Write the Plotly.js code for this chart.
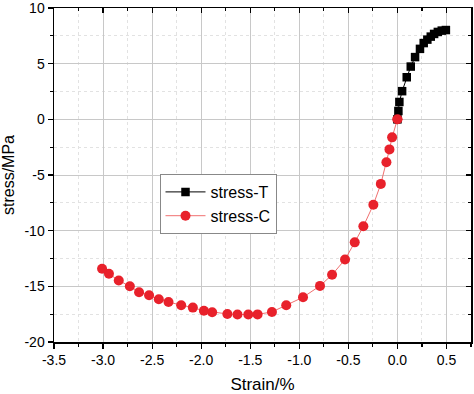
<!DOCTYPE html>
<html>
<head>
<meta charset="utf-8">
<script src="https://cdn.plot.ly/plotly-3.0.1.min.js"></script>
<style>html,body{margin:0;padding:0;background:#fff}#chart{width:474px;height:394px}</style>
</head>
<body>
<div id="chart"></div>
<script>
var tensionStrain = [0, 0.01, 0.02, 0.048, 0.095, 0.136, 0.18, 0.23, 0.268, 0.305, 0.34, 0.374, 0.412, 0.452, 0.494];
var tensionStress = [0, 0.75, 1.56, 2.53, 3.78, 4.74, 5.59, 6.33, 6.85, 7.16, 7.43, 7.67, 7.85, 7.97, 8.02];

var compStrain = [0, -0.054, -0.081, -0.112, -0.169, -0.245, -0.347, -0.435, -0.534, -0.666, -0.789, -0.962, -1.133, -1.279, -1.425, -1.52, -1.63, -1.733, -1.888, -1.972, -2.085, -2.204, -2.333, -2.432, -2.531, -2.633, -2.727, -2.84, -2.94, -3.01];
var compStress = [0, -1.62, -2.7, -3.85, -5.8, -7.67, -9.61, -11.05, -12.59, -13.96, -14.96, -15.98, -16.7, -17.3, -17.52, -17.53, -17.53, -17.48, -17.33, -17.2, -16.91, -16.7, -16.4, -16.16, -15.8, -15.53, -14.99, -14.48, -13.87, -13.42];

var seriesNames = ["stress-T", "stress-C"];
var xTitle = "Strain/%";
var yTitle = "stress/MPa";

var xTickVals = [-3.5, -3.0, -2.5, -2.0, -1.5, -1.0, -0.5, 0.0, 0.5];
var xTickText = ["-3.5", "-3.0", "-2.5", "-2.0", "-1.5", "-1.0", "-0.5", "0.0", "0.5"];
var yTickVals = [-20, -15, -10, -5, 0, 5, 10];
var yTickText = ["-20", "-15", "-10", "-5", "0", "5", "10"];

var font = "Liberation Sans, Arial, sans-serif";

var traces = [
  {x: compStrain, y: compStress, name: seriesNames[1], mode: "lines+markers",
   line: {color: "#f07070", width: 1},
   marker: {symbol: "circle", size: 10, color: "#e8212b", line: {width: 0}}},
  {x: tensionStrain, y: tensionStress, name: seriesNames[0], mode: "lines+markers",
   line: {color: "#000000", width: 1},
   marker: {symbol: "square", size: 8.5, color: "#000000", line: {width: 0}}},
  {x: [0], y: [0], xaxis: "x2", yaxis: "y2", mode: "markers", showlegend: false,
   marker: {size: 10, color: "#e8212b"}, hoverinfo: "skip"}
];

var xr = [-3.5, 0.75], yr = [-20, 10];

var layout = {
  width: 474, height: 394,
  margin: {l: 54, r: 3, t: 8, b: 52},
  paper_bgcolor: "#fff", plot_bgcolor: "#fff",
  font: {family: font, size: 14, color: "#000"},
  showlegend: true,
  legend: {x: 0.253, y: 0.503, xanchor: "left", yanchor: "top",
           bordercolor: "#888", borderwidth: 1, bgcolor: "#fff",
           font: {family: font, size: 16, color: "#000"},
           traceorder: "reversed", tracegroupgap: 0, itemwidth: 40},
  xaxis: {range: xr, tickmode: "array", tickvals: xTickVals, ticktext: xTickText,
          ticklabeloverflow: "allow",
          showline: true, linecolor: "#000", linewidth: 1.5,
          ticks: "outside", ticklen: 5, tickwidth: 1.2, tickcolor: "#000",
          showgrid: true, gridcolor: "#c8c8c8", gridwidth: 1, zeroline: false,
          minor: {dtick: 0.25, tick0: 0, ticks: "outside", ticklen: 3, tickcolor: "#000",
                  showgrid: true, gridcolor: "#e2e2e2", griddash: "dot", gridwidth: 1},
          title: {text: xTitle, font: {family: font, size: 17}, standoff: 12},
          tickfont: {family: font, size: 14}},
  yaxis: {range: yr, tickmode: "array", tickvals: yTickVals, ticktext: yTickText,
          ticklabeloverflow: "allow",
          showline: true, linecolor: "#000", linewidth: 1.5,
          ticks: "outside", ticklen: 5, tickwidth: 1.2, tickcolor: "#000",
          showgrid: true, gridcolor: "#c8c8c8", gridwidth: 1, zeroline: false,
          minor: {dtick: 2.5, tick0: 0, ticks: "outside", ticklen: 3, tickcolor: "#000",
                  showgrid: true, gridcolor: "#e2e2e2", griddash: "dot", gridwidth: 1},
          title: {text: yTitle, font: {family: font, size: 16}, standoff: 8},
          tickfont: {family: font, size: 14}},
  xaxis2: {range: xr, tickmode: "array", tickvals: xTickVals, overlaying: "x", side: "top",
           showline: true, linecolor: "#000", linewidth: 1.5,
           ticks: "inside", ticklen: 5, tickwidth: 1.2, tickcolor: "#000",
           showticklabels: false, showgrid: false, zeroline: false,
           minor: {dtick: 0.25, tick0: 0, ticks: "inside", ticklen: 3, tickcolor: "#000", showgrid: false}},
  yaxis2: {range: yr, tickmode: "array", tickvals: yTickVals, overlaying: "y", side: "right",
           showline: true, linecolor: "#000", linewidth: 1.5,
           ticks: "inside", ticklen: 5, tickwidth: 1.2, tickcolor: "#000",
           showticklabels: false, showgrid: false, zeroline: false,
           minor: {dtick: 2.5, tick0: 0, ticks: "inside", ticklen: 3, tickcolor: "#000", showgrid: false}}
};

Plotly.newPlot("chart", traces, layout, {staticPlot: true, displayModeBar: false});
</script>
</body>
</html>
